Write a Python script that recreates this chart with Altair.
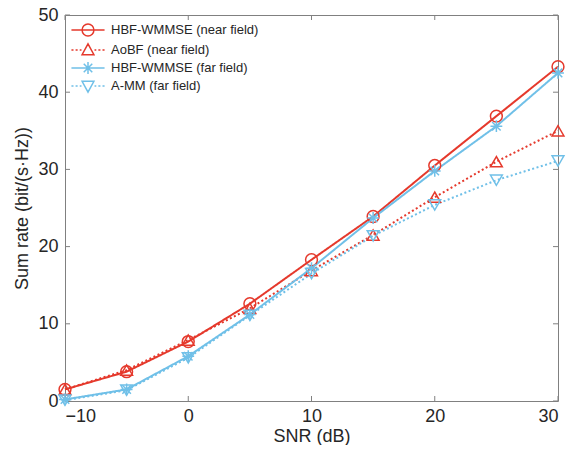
import altair as alt
import pandas as pd

# ---- data ----
snr = [-10, -5, 0, 5, 10, 15, 20, 25, 30]
hbf_near = [1.5, 3.8, 7.7, 12.6, 18.3, 23.9, 30.5, 36.9, 43.3]
aobf_near = [1.5, 4.0, 7.9, 12.0, 16.9, 21.5, 26.4, 31.0, 35.0]
hbf_far = [0.2, 1.5, 5.8, 11.2, 17.2, 23.7, 29.8, 35.6, 42.5]
amm_far = [0.1, 1.4, 5.6, 11.1, 16.5, 21.4, 25.4, 28.6, 31.1]

series_names = ["HBF-WMMSE (near field)", "AoBF (near field)",
                "HBF-WMMSE (far field)", "A-MM (far field)"]
series_values = [hbf_near, aobf_near, hbf_far, amm_far]
x_ticks = [-10, 0, 10, 20, 30]
y_ticks = [0, 10, 20, 30, 40, 50]

RED = "#E5392C"
BLUE = "#70C0E8"
GRAY = "#808080"
TXT = "#262626"
FONT = "Liberation Sans"
colors = [RED, RED, BLUE, BLUE]
dashes = [[1, 0], [2, 2.5], [1, 0], [2, 2.5]]

ASTER = "M0,-1L0,1M-1,0L1,0M-0.72,-0.72L0.72,0.72M-0.72,0.72L0.72,-0.72"
plot_shapes = ["circle", "triangle-up", ASTER, "triangle-down"]

solid_seg = "M-2.8,0L2.8,0"
dot_seg = ("M-2.8,0L-2.45,0M-2.1,0L-1.75,0M-1.4,0L-1.1,0"
           "M1.1,0L1.4,0M1.75,0L2.1,0M2.45,0L2.8,0")
CIRC = "M1,0A1,1,0,1,1,-1,0A1,1,0,1,1,1,0"
TRI_UP = "M0,-1.05L1,0.8L-1,0.8Z"
TRI_DN = "M0,1.05L1,-0.8L-1,-0.8Z"
legend_paths = [solid_seg + CIRC, dot_seg + TRI_UP, solid_seg + ASTER, dot_seg + TRI_DN]

rows = []
for name, vals in zip(series_names, series_values):
    for s, v in zip(snr, vals):
        rows.append({"snr": s, "rate": v, "series": name})
df = pd.DataFrame(rows)

W, H = 493, 386
MS = 140
FS = 18
x_scale = alt.Scale(domain=[-10, 30], nice=False, zero=False)
y_scale = alt.Scale(domain=[0, 50], nice=False)
color_scale = alt.Scale(domain=series_names, range=colors)

x_axis = alt.Axis(values=x_ticks, ticks=False, domain=False, grid=False,
                  title="SNR (dB)", labelFontSize=FS, titleFontSize=FS,
                  labelFont=FONT, titleFont=FONT, labelColor=TXT, titleColor=TXT,
                  titleFontWeight="normal", labelPadding=6, titlePadding=2)
y_axis = alt.Axis(values=y_ticks, ticks=False, domain=False, grid=False,
                  title="Sum rate (bit/(s·Hz))", labelFontSize=FS, titleFontSize=FS,
                  labelFont=FONT, titleFont=FONT, labelColor=TXT, titleColor=TXT,
                  titleFontWeight="normal", labelPadding=7, titlePadding=6)


def X(field="snr:Q"):
    return alt.X(field, scale=x_scale, axis=x_axis, title="SNR (dB)")


def Y(field="rate:Q"):
    return alt.Y(field, scale=y_scale, axis=y_axis, title="Sum rate (bit/(s·Hz))")


base = alt.Chart(df)

line_layers = []
point_layers = []
for name, shp, col, dsh in zip(series_names, plot_shapes, colors, dashes):
    sub = base.transform_filter(alt.datum.series == name)
    line_layers.append(
        sub.mark_line(strokeWidth=2, strokeCap="butt", color=col, strokeDash=dsh)
        .encode(x=X(), y=Y())
    )
    point_layers.append(
        sub.mark_point(shape=shp, size=MS, strokeWidth=1.5, filled=False,
                       color=col, opacity=1)
        .encode(x=X(), y=Y())
    )

leg = alt.Legend(orient="none", legendX=4, legendY=8, title=None,
                 labelFontSize=13, labelFont=FONT, labelColor=TXT,
                 symbolSize=MS, symbolStrokeWidth=1.5, symbolOffset=12,
                 labelOffset=16, rowPadding=1, padding=0, direction="vertical")

legend_layer = base.transform_filter("false").mark_point(
    filled=False, size=MS, strokeWidth=1.5, opacity=1).encode(
    x=X(), y=Y(),
    color=alt.Color("series:N", scale=color_scale, legend=leg),
    shape=alt.Shape("series:N",
                    scale=alt.Scale(domain=series_names, range=legend_paths),
                    legend=leg),
)

xt = alt.Chart(pd.DataFrame({"t": x_ticks}))
yt = alt.Chart(pd.DataFrame({"t": y_ticks}))
tick_bottom = xt.mark_rule(color=GRAY, strokeWidth=1).encode(
    x=X("t:Q"), y=alt.value(H), y2=alt.value(H - 5))
tick_top = xt.mark_rule(color=GRAY, strokeWidth=1).encode(
    x=X("t:Q"), y=alt.value(0), y2=alt.value(5))
tick_left = yt.mark_rule(color=GRAY, strokeWidth=1).encode(
    y=Y("t:Q"), x=alt.value(0), x2=alt.value(5))
tick_right = yt.mark_rule(color=GRAY, strokeWidth=1).encode(
    y=Y("t:Q"), x=alt.value(W), x2=alt.value(W - 5))

chart = alt.layer(
    tick_bottom, tick_top, tick_left, tick_right,
    *line_layers, *point_layers, legend_layer
).properties(
    width=W, height=H,
    autosize=alt.AutoSizeParams(type="none"),
    padding={"left": 57, "top": 7, "right": 9, "bottom": 44},
    background="white",
).configure_view(stroke=GRAY, strokeWidth=1)

chart.save("out.html", embed_options={"renderer": "svg", "actions": False})
